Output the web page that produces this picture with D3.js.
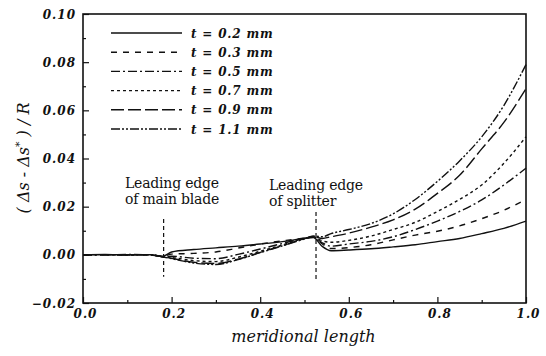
<!DOCTYPE html>
<html>
<head>
<meta charset="utf-8">
<script src="https://cdn.jsdelivr.net/npm/d3@7"></script>
<style>
  html, body { margin: 0; padding: 0; background: #fff; }
  svg { display: block; }
  .tick-label { font-style: italic; font-weight: bold; font-size: 12px; letter-spacing: 1px; fill: #111; }
  .legend-text { font-style: italic; font-weight: bold; font-size: 12px; letter-spacing: 0.8px; fill: #111; }
  .title { font-style: italic; font-size: 16px; fill: #111; }
  .note { font-size: 14px; letter-spacing: -0.2px; fill: #111; }
</style>
</head>
<body>
<svg id="chart" width="546" height="356" font-family="DejaVu Serif"></svg>
<script>
// Meridional positions shared by every series
const meridional = [0, 0.05, 0.1, 0.15, 0.18, 0.2, 0.25, 0.3, 0.35, 0.4, 0.45, 0.5, 0.52, 0.54, 0.56, 0.6, 0.65, 0.7, 0.75, 0.8, 0.85, 0.9, 0.95, 1.0];

// Entropy rise (Δs - Δs*)/R for each tip clearance
const t02 = [0, 0.0002, -0.0001, 0.0001, -0.0006, 0.0012, 0.0022, 0.0029, 0.0036, 0.0045, 0.0055, 0.0068, 0.0072, 0.0035, 0.0017, 0.002, 0.0025, 0.0033, 0.0042, 0.0055, 0.0068, 0.0088, 0.011, 0.014];
const t03 = [0, 0.0001, 0.0001, 0, -0.0006, 0.0003, 0.0006, 0.0012, 0.0028, 0.0045, 0.0058, 0.0070, 0.0074, 0.0045, 0.0026, 0.003, 0.0042, 0.0062, 0.0082, 0.0098, 0.012, 0.015, 0.0185, 0.023];
const t05 = [0, -0.0001, 0.0002, 0, -0.0007, -0.0006, -0.0014, -0.0016, 0.0002, 0.0024, 0.0047, 0.0069, 0.0074, 0.005, 0.0036, 0.0045, 0.0056, 0.0075, 0.0105, 0.014, 0.018, 0.0228, 0.029, 0.036];
const t07 = [0, 0.0001, -0.0001, 0.0001, -0.0008, -0.0011, -0.0024, -0.0028, -0.001, 0.0015, 0.0041, 0.0068, 0.0074, 0.0058, 0.0052, 0.006, 0.0078, 0.0105, 0.0135, 0.018, 0.023, 0.029, 0.038, 0.049];
const t09 = [0, 0, 0.0001, 0, -0.0008, -0.0014, -0.0031, -0.0036, -0.0018, 0.001, 0.0038, 0.0067, 0.0076, 0.0068, 0.0075, 0.009, 0.0115, 0.0145, 0.019, 0.0255, 0.033, 0.044, 0.055, 0.069];
const t11 = [0, 0.0001, 0, 0.0001, -0.0009, -0.0016, -0.0034, -0.004, -0.002, 0.0009, 0.0037, 0.0066, 0.0078, 0.0075, 0.0088, 0.0105, 0.013, 0.017, 0.023, 0.0305, 0.039, 0.049, 0.062, 0.079];

const seriesLabels = ["t = 0.2 mm", "t = 0.3 mm", "t = 0.5 mm", "t = 0.7 mm", "t = 0.9 mm", "t = 1.1 mm"];
const seriesValues = [t02, t03, t05, t07, t09, t11];
const dashStyles = ["none", "6,6", "9,3,2,3", "3,3", "13,4", "9,2,2,2,2,2"];

const xTicks = [0, 0.2, 0.4, 0.6, 0.8, 1.0];
const yTicks = [-0.02, 0, 0.02, 0.04, 0.06, 0.08, 0.10];

// Leading-edge markers
const markers = [
  { x: 0.182, y0: -0.0091, y1: 0.0149, lines: ["Leading edge", "of main blade"] },
  { x: 0.526, y0: -0.0100, y1: 0.0178, lines: ["Leading edge", "of splitter"] }
];

const svg = d3.select("#chart");
const plot = { left: 83, right: 526, top: 14, bottom: 303 };

const x = d3.scaleLinear().domain([0, 1]).range([plot.left, plot.right]);
const y = d3.scaleLinear().domain([-0.02, 0.10]).range([plot.bottom, plot.top]);

// Inward ticks: major with labels, minor without
const xAxis = d3.axisBottom(x).tickValues(xTicks).tickSize(-6).tickFormat(d3.format(".1f"));
const xMinor = d3.axisBottom(x).tickValues(d3.range(0.1, 1, 0.2)).tickSize(-3).tickFormat("");
const yAxis = d3.axisLeft(y).tickValues(yTicks).tickSize(-6).tickFormat(d3.format(".2f"));
const yMinor = d3.axisLeft(y).tickValues(d3.range(-0.01, 0.1, 0.02)).tickSize(-3).tickFormat("");

function styleAxis(g) {
  g.attr("font-family", "DejaVu Serif").attr("font-size", null);
  g.select(".domain").remove();
  g.selectAll(".tick line").attr("stroke", "#111").attr("stroke-width", 1.2);
}

svg.append("g").attr("transform", `translate(0,${plot.bottom})`).call(xAxis).call(styleAxis)
  .selectAll("text").attr("class", "tick-label").attr("dy", null).attr("y", 15).attr("dx", 2);
svg.append("g").attr("transform", `translate(0,${plot.bottom})`).call(xMinor).call(styleAxis);
svg.append("g").attr("transform", `translate(${plot.left},0)`).call(yAxis).call(styleAxis)
  .selectAll("text").attr("class", "tick-label").attr("x", -7).attr("dy", "0.34em");
svg.append("g").attr("transform", `translate(${plot.left},0)`).call(yMinor).call(styleAxis);

// Frame
svg.append("rect")
  .attr("x", plot.left).attr("y", plot.top)
  .attr("width", plot.right - plot.left).attr("height", plot.bottom - plot.top)
  .attr("fill", "none").attr("stroke", "#111").attr("stroke-width", 1.6);

// Curves
const line = d3.line()
  .x((d, i) => x(meridional[i]))
  .y(d => y(d))
  .curve(d3.curveMonotoneX);

svg.append("g").selectAll("path")
  .data(seriesValues)
  .join("path")
  .attr("d", d => line(d))
  .attr("fill", "none")
  .attr("stroke", "#111")
  .attr("stroke-width", 1.4)
  .attr("stroke-dasharray", (d, i) => dashStyles[i]);

// Leading-edge markers and notes
const mg = svg.append("g");
mg.selectAll("line")
  .data(markers)
  .join("line")
  .attr("x1", d => x(d.x)).attr("x2", d => x(d.x))
  .attr("y1", d => y(d.y1)).attr("y2", d => y(d.y0))
  .attr("stroke", "#111").attr("stroke-width", 1.2)
  .attr("stroke-dasharray", "4,3");

const notePos = [{ x: 125, y: 188 }, { x: 269, y: 190 }];
markers.forEach((m, k) => {
  const t = svg.append("text").attr("class", "note")
    .attr("x", notePos[k].x).attr("y", notePos[k].y);
  m.lines.forEach((s, j) => {
    t.append("tspan").attr("x", notePos[k].x).attr("dy", j === 0 ? 0 : 16).text(s);
  });
});

// Legend
const legend = svg.append("g");
seriesLabels.forEach((lab, i) => {
  const ly = 33 + i * 19.2;
  legend.append("line")
    .attr("x1", 111).attr("x2", 182).attr("y1", ly).attr("y2", ly)
    .attr("stroke", "#111").attr("stroke-width", 1.4)
    .attr("stroke-dasharray", dashStyles[i]);
  legend.append("text").attr("class", "legend-text")
    .attr("x", 191).attr("y", ly + 4.5).text(lab);
});

// Axis titles
svg.append("text").attr("class", "title")
  .attr("x", (plot.left + plot.right) / 2 - 1).attr("y", 342)
  .attr("text-anchor", "middle").text("meridional length");

const yt = svg.append("text").attr("class", "title")
  .attr("transform", "translate(29,158) rotate(-90)")
  .attr("text-anchor", "middle");
yt.append("tspan").text("( Δs - Δs");
yt.append("tspan").attr("dy", -6).attr("font-size", "11px").text("*");
yt.append("tspan").attr("dy", 6).text(" ) / R");
</script>
</body>
</html>
